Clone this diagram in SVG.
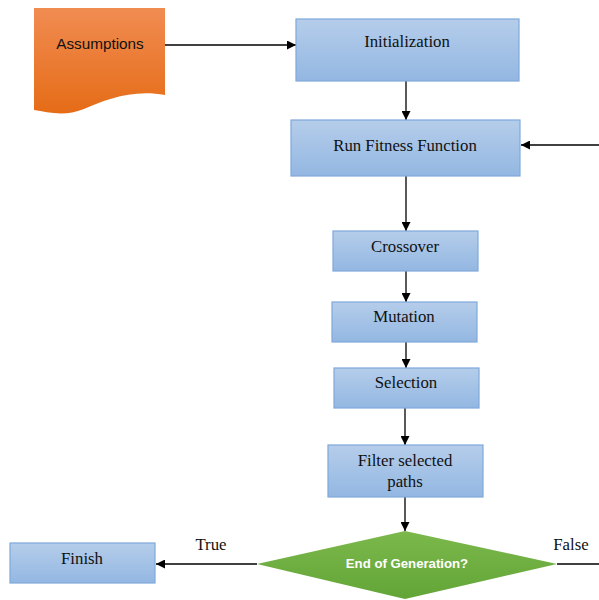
<svg xmlns="http://www.w3.org/2000/svg" width="599" height="600" viewBox="0 0 599 600">
<defs>
<linearGradient id="gBlue" x1="0" y1="0" x2="0" y2="1">
<stop offset="0" stop-color="#b5cdea"/>
<stop offset="1" stop-color="#93b7e2"/>
</linearGradient>
<linearGradient id="gOrange" x1="0" y1="0" x2="0" y2="1">
<stop offset="0" stop-color="#f18c52"/>
<stop offset="1" stop-color="#e56c17"/>
</linearGradient>
<linearGradient id="gGreen" x1="0" y1="0" x2="0" y2="1">
<stop offset="0" stop-color="#7cb84c"/>
<stop offset="1" stop-color="#62a537"/>
</linearGradient>
<marker id="arr" viewBox="0 0 10 10" refX="10" refY="5" markerWidth="9" markerHeight="9" markerUnits="userSpaceOnUse" orient="auto">
<path d="M0,0 L10,5 L0,10 Z" fill="#000"/>
</marker>
<style>
.box{fill:url(#gBlue);stroke:#7fa8db;stroke-width:1.2}
.t{font-family:"Liberation Serif","Times New Roman",serif;font-size:16.8px;fill:#111;text-anchor:middle}
.s{font-family:"Liberation Sans",Arial,sans-serif;font-size:15.3px;fill:#111;text-anchor:middle}
.w{font-family:"Liberation Sans",Arial,sans-serif;font-size:13.2px;font-weight:bold;fill:#ffffff;text-anchor:middle}
.c{stroke:#000;stroke-width:1.3;fill:none}
</style>
</defs>
<rect width="599" height="600" fill="#ffffff"/>
<g id="connectors">
<line class="c" x1="165" y1="45" x2="296" y2="45" marker-end="url(#arr)"/>
<line class="c" x1="406" y1="81" x2="406" y2="120" marker-end="url(#arr)"/>
<line class="c" x1="599" y1="145" x2="521" y2="145" marker-end="url(#arr)"/>
<line class="c" x1="406" y1="176" x2="406" y2="231" marker-end="url(#arr)"/>
<line class="c" x1="406" y1="271" x2="406" y2="302" marker-end="url(#arr)"/>
<line class="c" x1="406" y1="342" x2="406" y2="368" marker-end="url(#arr)"/>
<line class="c" x1="405" y1="408" x2="405" y2="445" marker-end="url(#arr)"/>
<line class="c" x1="405" y1="497" x2="405" y2="531" marker-end="url(#arr)"/>
<line class="c" x1="257" y1="564" x2="156" y2="564" marker-end="url(#arr)"/>
<line class="c" x1="557" y1="564" x2="599" y2="564"/>
<text class="t" x="211" y="550">True</text>
<text class="t" x="571" y="550">False</text>
</g>
<g id="assumptions">
<path d="M34,8 H165 V95 C132,89 105,100 84,109 C64,117 48,112 34,110 Z" fill="url(#gOrange)"/>
<text class="s" x="100" y="49">Assumptions</text>
</g>
<g id="initialization">
<rect class="box" x="296" y="19" width="223" height="62"/>
<text class="t" x="407" y="47">Initialization</text>
</g>
<g id="fitness">
<rect class="box" x="291" y="120" width="229" height="56"/>
<text class="t" x="405" y="151">Run Fitness Function</text>
</g>
<g id="crossover">
<rect class="box" x="333" y="231" width="145" height="40"/>
<text class="t" x="405" y="252">Crossover</text>
</g>
<g id="mutation">
<rect class="box" x="332" y="302" width="145" height="40"/>
<text class="t" x="404" y="322">Mutation</text>
</g>
<g id="selection">
<rect class="box" x="334" y="368" width="145" height="40"/>
<text class="t" x="406" y="388">Selection</text>
</g>
<g id="filter">
<rect class="box" x="328" y="445" width="155" height="52"/>
<text class="t" x="405" y="466">Filter selected</text>
<text class="t" x="405" y="487">paths</text>
</g>
<g id="decision">
<path d="M405,531 L557,564 L405,599 L257,564 Z" fill="url(#gGreen)"/>
<text class="w" x="407" y="568">End of Generation?</text>
</g>
<g id="finish">
<rect class="box" x="10" y="543" width="145" height="40"/>
<text class="t" x="82" y="564">Finish</text>
</g>
</svg>
